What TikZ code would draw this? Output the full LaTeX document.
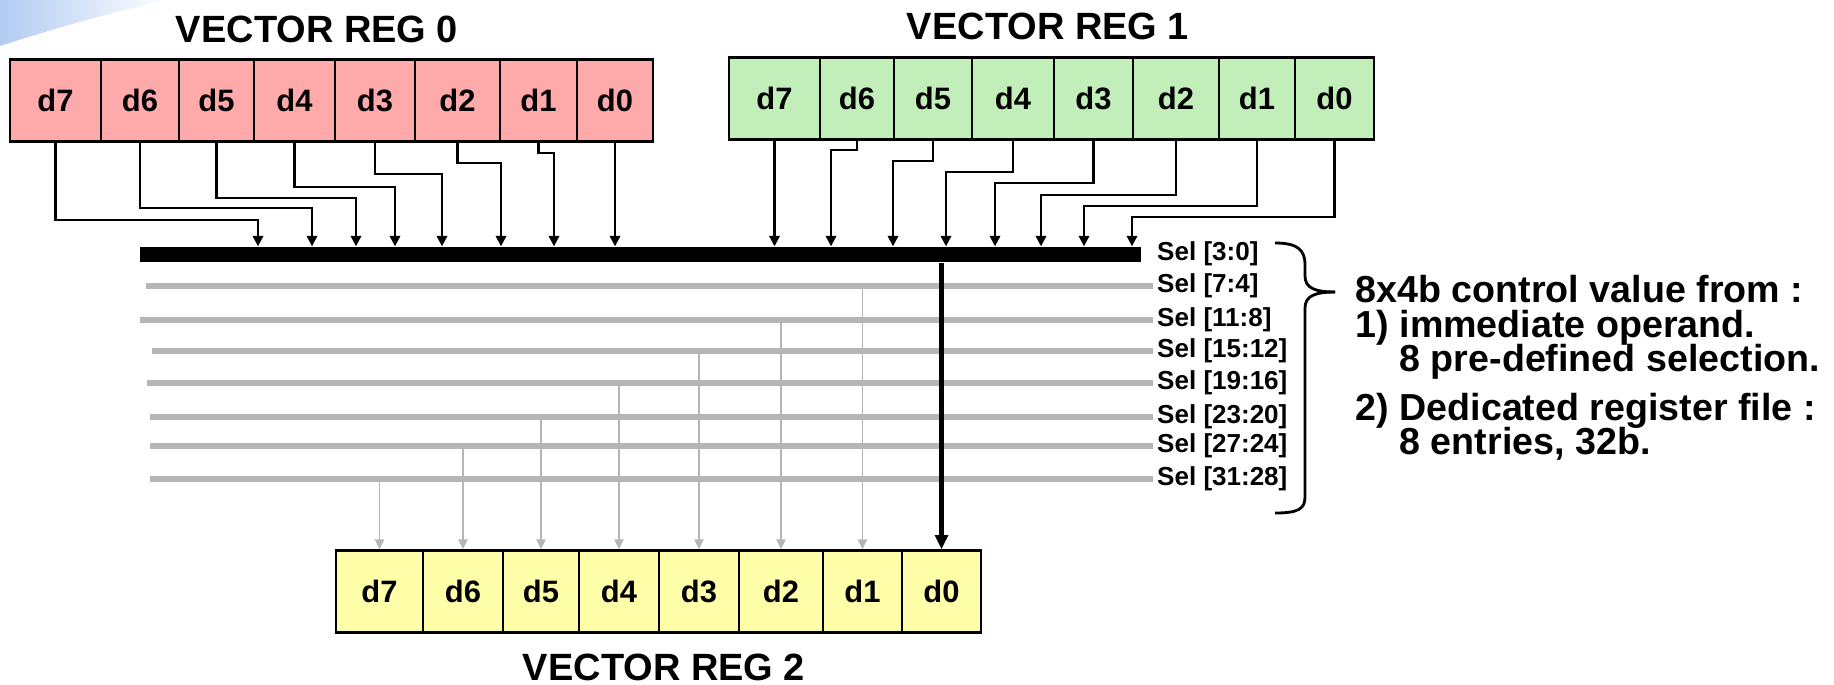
\documentclass[tikz,border=0pt]{standalone}
\usepackage{fontspec}
\setmainfont{Liberation Sans}
\usetikzlibrary{arrows.meta}
\definecolor{regpink}{RGB}{255,170,170}
\definecolor{reggreen}{RGB}{194,238,186}
\definecolor{regyellow}{RGB}{255,255,170}
\definecolor{selgray}{RGB}{181,181,181}
\definecolor{swoosh}{RGB}{178,204,242}
\begin{document}
\begin{tikzpicture}[x=0.01cm,y=-0.01cm,
		cell/.style={draw,line width=0.7pt,inner sep=0pt,minimum height=0.82cm,font=\fontsize{8.8}{10}\selectfont\bfseries},
		title/.style={inner sep=0pt,font=\fontsize{10.8}{12}\selectfont\bfseries},
		link/.style={line width=0.6pt,-{Triangle[length=3pt,width=3pt]}},
		outlink/.style={line width=1.3pt,-{Triangle[length=4pt,width=3.6pt]}},
		drop/.style={selgray,line width=0.5pt,-{Triangle[length=2.8pt,width=2.6pt]}},
		selline/.style={selgray,line width=1.5pt},
		sel/.style={anchor=west,inner sep=1pt,font=\fontsize{7.4}{8}\selectfont\bfseries},
		note/.style={anchor=base west,inner sep=0pt,font=\fontsize{10.7}{12}\selectfont\bfseries}]
	\useasboundingbox (0,0) rectangle (1834,684);
	\shade[left color=swoosh,right color=white] (0,0) -- (170,0) .. controls (110,12) and (50,30) .. (0,46) -- cycle;

	\node[title] (t0) at (317,29) {VECTOR REG 0};
	\node[title] (t1) at (1048,26) {VECTOR REG 1};
	\node[title] (t2) at (664,667) {VECTOR REG 2};

	\foreach \n/\xa/\xb in {7/10/101,6/101/179,5/179/254,4/254/335,3/335/415,2/415/500,1/500/577,0/577/653}
		\node[cell,fill=regpink,minimum width={(\xb-\xa)*0.01cm}] (r0d\n) at ({(\xa+\xb)/2},100.5) {d\n};
	\foreach \n/\xa/\xb in {7/729/820,6/820/894,5/894/972,4/972/1054,3/1054/1133,2/1133/1219,1/1219/1295,0/1295/1374}
		\node[cell,fill=reggreen,minimum width={(\xb-\xa)*0.01cm}] (r1d\n) at ({(\xa+\xb)/2},98.5) {d\n};
	\foreach \n/\xa/\xb in {7/336/423,6/423/503,5/503/579,4/579/659,3/659/739,2/739/823,1/823/902,0/902/981}
		\node[cell,fill=regyellow,minimum width={(\xb-\xa)*0.01cm}] (r2d\n) at ({(\xa+\xb)/2},591.5) {d\n};

	\node[fill=black,inner sep=0pt,minimum width=10.01cm,minimum height=0.15cm] (bus) at (640.5,254.5) {};

	\foreach \n/\yc/\xb in {7/220/258,6/208/312,5/198/356,4/187/395,3/174/442,2/163/501,1/153/554}
		\draw[link] (r0d\n.south) |- (\xb,\yc) -- (\xb,\yc |- bus.north);
	\draw[link] (r0d0.south) -- (r0d0.south |- bus.north);
	\draw[link] (r1d7.south) -- (r1d7.south |- bus.north);
	\foreach \n/\yc/\xb in {6/150/831,5/161/893,4/172/946,3/183/995,2/195/1041,1/206/1084,0/217/1132}
		\draw[link] (r1d\n.south) |- (\xb,\yc) -- (\xb,\yc |- bus.north);

	\node[sel] (sel0) at (1153,254) {Sel [3:0]};
	\foreach \i/\y/\xl/\lab in {1/286/146/7:4,2/320/140/11:8,3/351/152/15:12,4/383/147/19:16,5/417/150/23:20,6/446/150/27:24,7/479/150/31:28}
	{
		\node[sel] (sel\i) at (1153,\y) {Sel [\lab]};
		\draw[selline] (\xl,\y) -- (sel\i.west);
		\draw[drop] (r2d\i.north |- sel\i.west) -- (r2d\i.north);
	}
	\draw[outlink] (r2d0.north |- bus.south) -- (r2d0.north);

	\draw[line width=0.8pt] (1275,243) .. controls (1298,243) and (1305,250) .. (1305,265) -- (1305,276) .. controls (1305,288) and (1315,292) .. (1335,292);
	\draw[line width=0.8pt] (1335,292) .. controls (1315,292) and (1305,296) .. (1305,308) -- (1305,497) .. controls (1305,509) and (1298,513) .. (1275,513);

	\node[note] (n1) at (1355,302) {8x4b control value from :};
	\node[note] (n2) at (1355,337) {1) immediate operand.};
	\node[note] (n3) at (1355,371) {\phantom{1) }8 pre-defined selection.};
	\node[note] (n4) at (1355,420) {2) Dedicated register file :};
	\node[note] (n5) at (1355,454) {\phantom{2) }8 entries, 32b.};
\end{tikzpicture}
\end{document}
